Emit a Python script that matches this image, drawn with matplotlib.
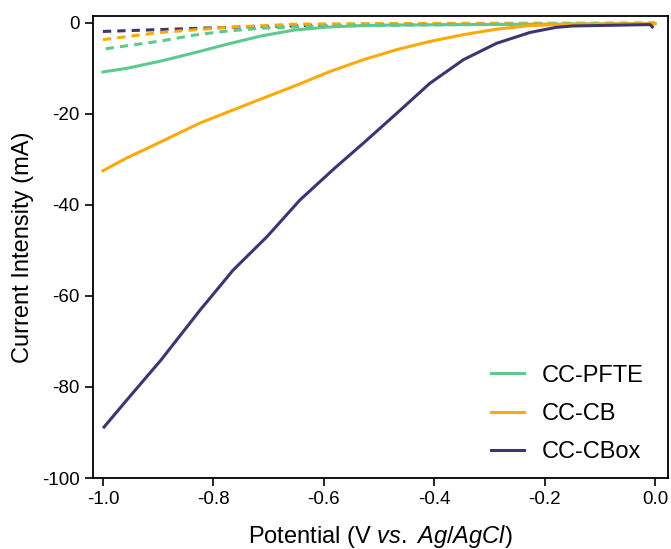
import matplotlib.pyplot as plt

plt.rcParams['font.family'] = ['Liberation Sans', 'DejaVu Sans']
plt.rcParams['mathtext.fontset'] = 'custom'
plt.rcParams['mathtext.rm'] = 'Liberation Sans'
plt.rcParams['mathtext.it'] = 'Liberation Sans:italic'

# CC-PFTE (solid)
v_pfte = [-1.0, -0.957, -0.895, -0.835, -0.775, -0.714, -0.654, -0.594, -0.54, -0.49, -0.3, -0.15, 0.0]
i_pfte = [-10.8, -10.0, -8.4, -6.6, -4.7, -2.9, -1.6, -0.95, -0.65, -0.5, -0.35, -0.3, -0.2]

# CC-CB (solid)
v_cb = [-1.0, -0.957, -0.915, -0.824, -0.734, -0.643, -0.589, -0.528, -0.468,
        -0.408, -0.347, -0.287, -0.226, -0.15, 0.0]
i_cb = [-32.5, -29.7, -27.3, -22.0, -17.7, -13.4, -10.7, -8.1, -5.9,
        -4.1, -2.6, -1.4, -0.6, -0.3, -0.2]

# CC-CBox (solid)
v_cbox = [-0.998, -0.957, -0.895, -0.824, -0.764, -0.703, -0.643, -0.580, -0.528, -0.468,
          -0.408, -0.347, -0.287, -0.226, -0.179, -0.150, -0.060, -0.009, -0.005]
i_cbox = [-88.8, -82.9, -74.1, -63.1, -54.3, -47.0, -38.9, -31.9, -26.4, -19.9,
          -13.3, -8.1, -4.5, -2.1, -1.0, -0.7, -0.5, -0.4, -0.9]

# dashed (blank) curves
v_pfte_d = [-0.995, -0.895, -0.835, -0.775, -0.714, -0.654, -0.594, -0.4, -0.2, 0.0]
i_pfte_d = [-5.7, -4.0, -2.7, -1.8, -1.2, -0.9, -0.7, -0.45, -0.3, -0.2]
v_cb_d = [-1.0, -0.895, -0.775, -0.654, -0.5, -0.3, 0.0]
i_cb_d = [-3.7, -2.1, -1.0, -0.3, -0.15, -0.1, -0.05]
v_cbox_d = [-1.0, -0.9, -0.8, -0.7, -0.6, -0.4, -0.2, 0.0]
i_cbox_d = [-1.9, -1.5, -1.1, -0.8, -0.5, -0.3, -0.2, -0.1]

green = '#5DC98C'
orange = '#FDA90A'
purple = '#3B3670'

fig = plt.figure(figsize=(6.71, 5.49), dpi=100)
ax = fig.add_axes([0.1386, 0.1293, 0.857, 0.8416])

dash = (0, (2.7, 2.0))
ax.plot(v_cbox_d, i_cbox_d, color=purple, lw=2.2, ls=dash)
ax.plot(v_cb_d, i_cb_d, color=orange, lw=2.2, ls=dash)
ax.plot(v_pfte_d, i_pfte_d, color=green, lw=2.2, ls=dash)

ax.plot(v_pfte, i_pfte, color=green, lw=2.2, label='CC-PFTE')
ax.plot(v_cb, i_cb, color=orange, lw=2.2, label='CC-CB')
ax.plot(v_cbox, i_cbox, color=purple, lw=2.2, label='CC-CBox')

ax.set_xlim(-1.018, 0.0235)
ax.set_ylim(-100, 1.5)
ax.set_xticks([-1.0, -0.8, -0.6, -0.4, -0.2, 0.0])
ax.set_xticklabels(['-1.0', '-0.8', '-0.6', '-0.4', '-0.2', '0.0'])
ax.set_yticks([0, -20, -40, -60, -80, -100])
ax.set_yticklabels(['0', '-20', '-40', '-60', '-80', '-100'])
ax.tick_params(direction='out', length=6, width=1.2, labelsize=13.5)
for s in ax.spines.values():
    s.set_linewidth(1.3)

ax.set_xlabel(r'Potential (V $\mathit{vs.}$ $\mathit{Ag/AgCl}$)', fontsize=17, labelpad=11)
ax.set_ylabel('Current Intensity (mA)', fontsize=17, labelpad=6)

ax.legend(loc='lower right', bbox_to_anchor=(0.986, -0.003), frameon=False, fontsize=17,
          handlelength=1.4, handletextpad=0.75, labelspacing=0.68, borderaxespad=0.3)

fig.savefig('out.png', dpi=100)
